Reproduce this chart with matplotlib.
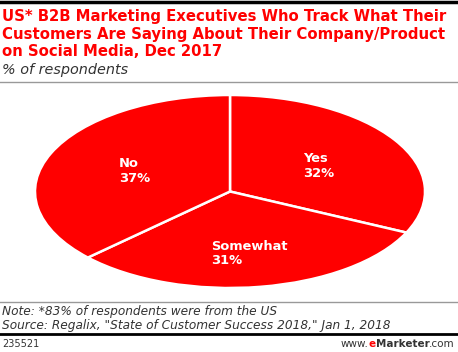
import matplotlib
matplotlib.use("Agg")
import matplotlib.pyplot as plt
from matplotlib.lines import Line2D

labels = ["Yes", "Somewhat", "No"]
values = [32, 31, 37]
title_lines = ["US* B2B Marketing Executives Who Track What Their",
               "Customers Are Saying About Their Company/Product",
               "on Social Media, Dec 2017"]
subtitle = "% of respondents"
note = "Note: *83% of respondents were from the US"
source = 'Source: Regalix, "State of Customer Success 2018," Jan 1, 2018'
chart_id = "235521"

W, H = 458, 352
fig = plt.figure(figsize=(W / 100, H / 100), dpi=100)
fig.patch.set_facecolor("white")

def fx(px):
    return px / W

def fy(py):
    return 1 - py / H

# Pie axes: ellipse x 35..425, y 95..288
ax = fig.add_axes([fx(35), fy(288), (425 - 35) / W, (288 - 95) / H])
wedges, _ = ax.pie(values, startangle=90, counterclock=False, colors=["#ff0000"] * 3,
                   wedgeprops=dict(edgecolor="white", linewidth=1.8), radius=1)
ax.set_aspect("auto")
ax.set_xlim(-1, 1)
ax.set_ylim(-1, 1)
ax.axis("off")

# labels (pixel positions of the left/top of label)
label_pos = {"Yes": (303, 152), "Somewhat": (211, 240), "No": (119, 157)}
for lab, v in zip(labels, values):
    x, y = label_pos[lab]
    fig.text(fx(x), fy(y), f"{lab}\n{v}%", color="white", fontsize=9.4,
             fontweight="bold", ha="left", va="top", linespacing=1.15,
             family="DejaVu Sans")

# Top black bar
fig.add_artist(Line2D([0, 1], [fy(1.5), fy(1.5)], color="black", linewidth=2.5))
# Title
for i, t in enumerate(title_lines):
    fig.text(fx(2), fy(17 + i * 17.5), t, color="#ff0000", fontsize=10.7,
             fontweight="bold", ha="left", va="center", family="DejaVu Sans")
fig.text(fx(2), fy(70), subtitle, color="#333333", fontsize=10.4, style="italic",
         ha="left", va="center", family="DejaVu Sans")
fig.add_artist(Line2D([0, 1], [fy(82), fy(82)], color="#999999", linewidth=1))

# Bottom
fig.add_artist(Line2D([0, 1], [fy(302), fy(302)], color="#999999", linewidth=1))
fig.text(fx(2), fy(311), note, color="#333333", fontsize=8.7, style="italic",
         ha="left", va="center", family="DejaVu Sans")
fig.text(fx(2), fy(325), source, color="#333333", fontsize=8.7, style="italic",
         ha="left", va="center", family="DejaVu Sans")
fig.add_artist(Line2D([0, 1], [fy(334), fy(334)], color="black", linewidth=2))
fig.text(fx(2), fy(344), chart_id, color="#333333", fontsize=7,
         ha="left", va="center", family="DejaVu Sans")

# www.eMarketer.com right aligned, built from pieces
parts = [("www.", "normal", "#333333"), ("e", "bold", "#ff0000"),
         ("Marketer", "bold", "#333333"), (".com", "normal", "#333333")]
fig.canvas.draw()
renderer = fig.canvas.get_renderer()
texts = []
for s, w, c in parts:
    t = fig.text(0, fy(344), s, color=c, fontsize=7.5, fontweight=w,
                 ha="left", va="center", family="DejaVu Sans")
    texts.append(t)
widths = [t.get_window_extent(renderer).width for t in texts]
x = W - 3 - sum(widths)
for t, wd in zip(texts, widths):
    t.set_x(x / W)
    x += wd

fig.savefig("out.png", dpi=100, facecolor="white")
